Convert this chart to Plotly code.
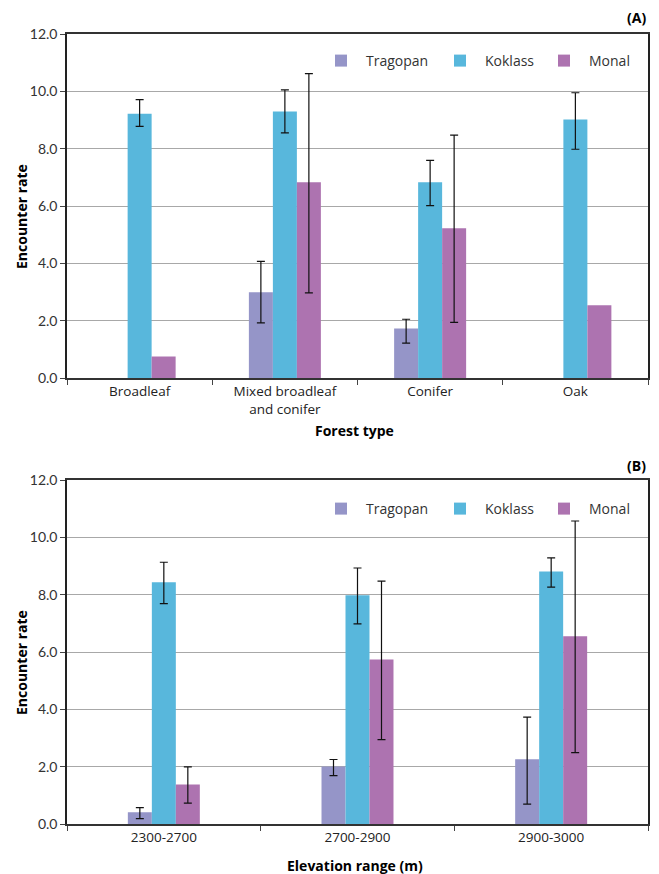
import plotly.graph_objects as go
from plotly.subplots import make_subplots

species = ["Tragopan", "Koklass", "Monal"]
colors = ["#9595C8", "#58B7DC", "#AD73B0"]

forest_types = ["Broadleaf", "Mixed broadleaf<br>and conifer", "Conifer", "Oak"]
forest_vals = {
    "Tragopan": [None, 2.99, 1.73, None],
    "Koklass": [9.22, 9.30, 6.83, 9.02],
    "Monal": [0.75, 6.83, 5.22, 2.54],
}
forest_hi = {
    "Tragopan": [None, 4.07, 2.05, None],
    "Koklass": [9.71, 10.05, 7.59, 9.95],
    "Monal": [None, 10.62, 8.47, None],
}
forest_lo = {
    "Tragopan": [None, 1.92, 1.22, None],
    "Koklass": [8.78, 8.55, 6.01, 7.98],
    "Monal": [None, 2.97, 1.94, None],
}

elev_ranges = ["2300-2700", "2700-2900", "2900-3000"]
elev_vals = {
    "Tragopan": [0.41, 2.01, 2.26],
    "Koklass": [8.43, 7.98, 8.81],
    "Monal": [1.38, 5.74, 6.55],
}
elev_hi = {
    "Tragopan": [0.57, 2.25, 3.73],
    "Koklass": [9.13, 8.93, 9.28],
    "Monal": [1.99, 8.47, 10.57],
}
elev_lo = {
    "Tragopan": [0.19, 1.69, 0.69],
    "Koklass": [7.69, 6.98, 8.26],
    "Monal": [0.73, 2.94, 2.49],
}

y_ticks = [0, 2, 4, 6, 8, 10, 12]
y_ticklabels = ["0.0", "2.0", "4.0", "6.0", "8.0", "10.0", "12.0"]

# page body has an 8px margin: figure is drawn 8px in from the window edge
W, H = 651, 866
ML, MR, MT, MB = 59, 11, 26, 50
plot_h = H - MT - MB
panel_h = 344
gap = plot_h - 2 * panel_h

fig = make_subplots(rows=2, cols=1, vertical_spacing=gap / plot_h)

legend_widths = [64, 49, 54]


def add_panel(row, cats, vals, hi, lo, legend, bw):
    for i, (sp, col) in enumerate(zip(species, colors)):
        v = vals[sp]
        plus = ["NaN" if (h is None or x is None) else h - x for h, x in zip(hi[sp], v)]
        minus = ["NaN" if (l is None or x is None) else x - l for l, x in zip(lo[sp], v)]
        fig.add_trace(
            go.Bar(
                x=cats, y=v, name=sp, marker=dict(color=col, line=dict(width=0)),
                width=bw, offset=(i - 1.5) * bw,
                error_y=dict(type="data", symmetric=False, array=plus, arrayminus=minus,
                             color="#111111", thickness=1.2, width=4, visible=True),
                legend=legend, showlegend=True, legendwidth=legend_widths[i],
            ),
            row=row, col=1,
        )


add_panel(1, forest_types, forest_vals, forest_hi, forest_lo, "legend", 24 / 145.25)
add_panel(2, elev_ranges, elev_vals, elev_hi, elev_lo, "legend2", 24 / 193.7)

tickfont = dict(family="Lato, sans-serif", size=14, color="#333333")
catfont = dict(family="Open Sans, sans-serif", size=13.5, color="#222222")
titlefont = dict(family="Open Sans, sans-serif", size=14, color="#000000", weight="bold")

for r in (1, 2):
    fig.update_yaxes(
        range=[0, 12], tickvals=y_ticks, ticktext=y_ticklabels, tickfont=tickfont,
        showgrid=True, gridcolor="#A8A8A8", gridwidth=1,
        showline=True, linecolor="#222222", linewidth=1.5, mirror=True,
        ticks="outside", ticklen=5, tickcolor="#444444", zeroline=False,
        automargin=False, row=r, col=1,
    )
    fig.update_xaxes(
        tickfont=catfont, tickson="boundaries", ticks="outside", ticklen=5,
        tickcolor="#444444", showline=True, linecolor="#333333", linewidth=1.5,
        mirror=True, automargin=False, row=r, col=1,
    )

annotations = []
for yd, xt, xshift_down, lbl, lbl_shift in [
    ("y domain", "Forest type", -52, "(A)", 17),
    ("y2 domain", "Elevation range (m)", -41, "(B)", 15),
]:
    xd = "x domain" if yd == "y domain" else "x2 domain"
    annotations.append(dict(text="<b>Encounter rate</b>", xref=xd, yref=yd, x=0, xshift=-46,
                            y=0.468, textangle=-90, showarrow=False, xanchor="center",
                            yanchor="middle", font=titlefont))
    annotations.append(dict(text="<b>" + xt + "</b>", xref=xd, yref=yd, x=0.495, y=0,
                            yshift=xshift_down, showarrow=False, xanchor="center",
                            yanchor="middle", font=titlefont))
    annotations.append(dict(text="<b>" + lbl + "</b>", xref=xd, yref=yd, x=1.0, y=1.0,
                            yshift=lbl_shift, showarrow=False, xanchor="right",
                            yanchor="middle", font=titlefont))

legend_common = dict(
    orientation="h", xanchor="right", x=1.0, yanchor="top",
    bgcolor="rgba(0,0,0,0)", font=dict(family="Open Sans, sans-serif", size=14, color="#333333"),
    itemwidth=40, entrywidthmode="pixels", tracegroupgap=0, itemclick=False,
)
fig.update_layout(
    width=W, height=H,
    margin=dict(l=ML, r=MR, t=MT, b=MB, autoexpand=False),
    plot_bgcolor="white", paper_bgcolor="white",
    barmode="group", bargroupgap=0,
    legend=dict(**legend_common, y=1 - 11 / plot_h),
    legend2=dict(**legend_common, y=panel_h / plot_h - 13 / plot_h),
    annotations=annotations,
)

fig.write_html("out.html")
